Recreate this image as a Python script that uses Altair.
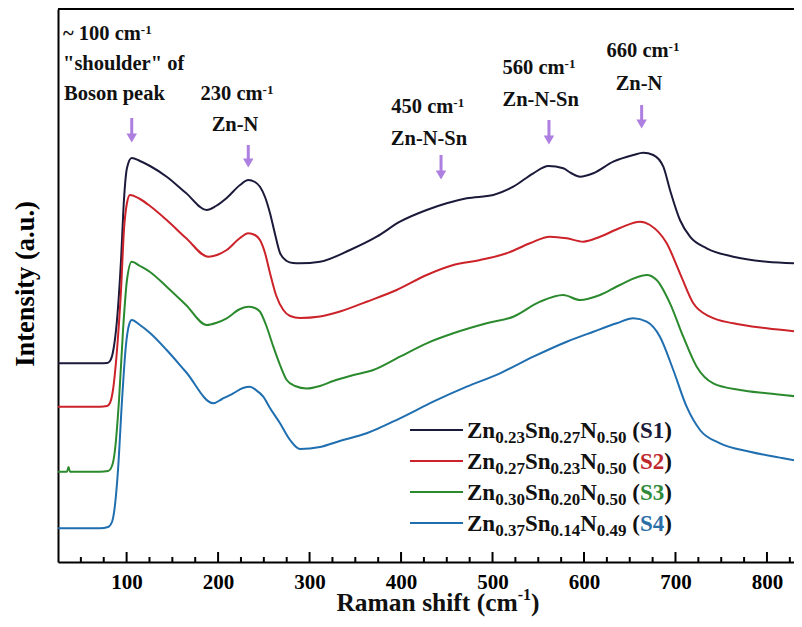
import altair as alt
import pandas as pd

# ---------------- data ----------------
shift_s1 = [25, 70.9, 78.6, 81.8, 85.1, 89.5, 93.9, 97.1, 100.4, 105.6, 114.6, 125.6, 143.8, 164.9, 187.5,
            197.7, 209.4, 224.0, 233.0, 240.3, 245.8, 251.3, 256.7, 262.2, 267.7, 275.0, 281.9, 289.5, 311.4, 344.2,
            373.4, 398.8, 428.0, 449.9, 471.8, 500.8, 522.7, 544.6, 561.0, 577.3, 585.8, 595.6, 610.2, 632.0, 653.9,
            664.8, 675.7, 686.7, 694.0, 704.9, 715.9, 734.1, 763.2, 799.7, 836.1]
int_s1 = [198.7, 198.7, 199, 201, 210, 242, 302, 362, 394, 404, 401, 396, 385.3, 369, 352,
          356, 364, 377, 382, 380, 375.3, 365, 349, 328, 309, 301, 299, 298.7, 300.3, 312,
          325.3, 340.3, 352, 358.7, 363.7, 367, 375.3, 388.7, 396, 393.7, 389, 385.3, 388.7, 400.3, 407,
          409.3, 407, 395.3, 372, 342, 325.3, 313.7, 305.3, 300.3, 298.7]

shift_s2 = [25, 70.9, 78.6, 81.8, 85.1, 89.5, 93.9, 97.1, 100.4, 103.7, 114.6, 125.6, 143.8, 164.9, 189.3,
            198.8, 209.4, 224.0, 233.0, 240.3, 245.8, 251.3, 256.7, 263.3, 271.3, 278.7, 289.5, 311.4, 335.0, 362.4,
            395.2, 428.0, 457.1, 486.3, 515.5, 540.9, 562.8, 581.1, 599.2, 617.5, 639.3, 661.2, 672.1, 690.4, 704.9,
            719.5, 737.7, 763.2, 799.7, 836.1]
int_s2 = [155.3, 155.3, 156, 159, 172, 212, 272, 332, 359, 367, 363, 356, 342, 324, 305.3,
          307, 312, 324, 328.7, 327, 322, 309, 289, 267, 252, 246, 244, 245.5, 251, 260.3,
          272, 287, 297, 302, 308.7, 318.7, 325.3, 323.7, 320.3, 325.3, 334, 340.3, 337, 318.7, 288.7,
          258.7, 245.3, 238.7, 233.7, 230.3]

shift_s3 = [25, 34.8, 36.5, 38.1, 70.9, 79.7, 84.0, 87.3, 91.7, 96.1, 100.4, 105.6, 114.6, 125.6, 143.8,
            164.9, 187.5, 197.7, 209.4, 224.0, 233.0, 240.3, 245.8, 252.4, 260.4, 267.7, 275.0, 284.1, 296.9, 311.4,
            325.9, 348.0, 369.7, 398.8, 428.0, 457.1, 493.6, 522.7, 551.9, 577.3, 595.6, 617.5, 639.3, 668.5, 679.4,
            694.0, 708.5, 723.2, 741.3, 770.5, 799.7, 836.1]
int_s3 = [90.3, 90.3, 95, 90.3, 90.3, 91, 96, 112, 162, 232, 282, 300.3, 296, 290, 275.3,
          257, 237, 239, 243.7, 253, 255.3, 254, 250.3, 237, 215.3, 197, 182, 176, 173.5, 176,
          181, 187, 192, 205.3, 218.7, 228.7, 238.7, 245.3, 260.3, 267, 262, 267, 277, 287, 282,
          258.7, 225.3, 195.3, 178.7, 172, 168.7, 165.3]

shift_s4 = [25, 70.9, 79.7, 84.0, 87.3, 90.6, 95.0, 99.3, 102.6, 105.6, 114.6, 125.6, 143.8, 164.9, 194.8,
            204.3, 216.6, 227.2, 234.9, 241.4, 249.4, 256.7, 267.7, 278.7, 289.5, 311.4, 333.0, 362.4, 398.8, 435.2,
            471.8, 508.2, 544.6, 581.1, 610.2, 635.7, 653.9, 668.5, 683.0, 697.6, 712.2, 726.8, 748.7, 781.4, 817.8,
            838]
int_s4 = [33.7, 33.7, 35, 40, 57, 92, 162, 217, 237, 242, 237, 229, 212, 190, 158.7,
          163, 168.7, 174, 175.3, 172, 165.3, 154, 138.7, 122, 113, 115, 121, 128.7, 143.7, 160.3,
          175.3, 188.7, 205.3, 220.3, 230.3, 238.7, 243.7, 240.3, 225.3, 192, 155.3, 132, 118.7, 110.3, 103.7,
          100.3]

sample_ids = ["S1", "S2", "S3", "S4"]
zn_frac = ["0.23", "0.27", "0.30", "0.37"]
sn_frac = ["0.27", "0.23", "0.20", "0.14"]
n_frac = ["0.50", "0.50", "0.50", "0.49"]

band_positions = [105.6, 233.0, 443.7, 561.7, 663.0]
tick_labels = [100, 200, 300, 400, 500, 600, 700, 800]

# ---------------- styles / layout ----------------
line_colors = ["#1c1a3a", "#cc2229", "#2b8a2e", "#1f6eb0"]
id_colors = ["#1c1a3a", "#c0272d", "#2f8a3b", "#2c6fa8"]
arrow_color = "#ad7fe0"
FONT = "Liberation Serif"
PX_PER_CM = 0.91479
PW, PH = 736, 553
XD = (25.0, 25.0 + PW / PX_PER_CM)
LEFT, TOP = 58, 9
PAD_BOTTOM = 55

def to_v(px):
    return XD[0] + (px - LEFT) / PX_PER_CM

def to_i(py):
    return (TOP + PH) - py

# Times-Bold advance widths (per 1000 em)
WID = {" ": 250, '"': 555, "(": 333, ")": 333, "-": 333, ".": 250, "~": 520,
       "N": 722, "R": 722, "S": 556, "Z": 667, "B": 667,
       "a": 500, "c": 444, "d": 556, "e": 444, "f": 333, "h": 556, "i": 278, "k": 556,
       "l": 278, "m": 833, "n": 556, "o": 500, "p": 556, "r": 444, "s": 389, "t": 333, "u": 556}

def tw(s, fs):
    return sum(WID.get(c, 500) for c in s) * fs / 1000.0

def run(parts, x, base, align="left"):
    widths = [tw(t, s) for t, s, _, _ in parts]
    if align == "center":
        x -= sum(widths) / 2
    out = []
    for (t, s, dy, c), w in zip(parts, widths):
        lead = len(t) - len(t.lstrip(" "))
        out.append(dict(v=to_v(x + tw(" " * lead, s)), i=to_i(base + dy), t=t.strip(), fs=s, col=c))
        x += w
    return out

K = "#111111"
A, SUP = 20.5, 13
texts = []
texts += run([("~ 100 cm", A, 0, K), ("-1", SUP, -6, K)], 63, 40)
texts += run([('"shoulder" of', A, 0, K)], 63, 70)
texts += run([("Boson peak", A, 0, K)], 64, 100)
texts += run([("230 cm", A, 0, K), ("-1", SUP, -6, K)], 237, 99.5, "center")
texts += run([("Zn-N", A, 0, K)], 235, 130.7, "center")
texts += run([("450 cm", A, 0, K), ("-1", SUP, -6, K)], 427.7, 113.3, "center")
texts += run([("Zn-N-Sn", A, 0, K)], 429, 145, "center")
texts += run([("560 cm", A, 0, K), ("-1", SUP, -6, K)], 539, 74, "center")
texts += run([("Zn-N-Sn", A, 0, K)], 540.7, 106, "center")
texts += run([("660 cm", A, 0, K), ("-1", SUP, -6, K)], 643, 57.3, "center")
texts += run([("Zn-N", A, 0, K)], 639, 90, "center")
# x title
texts += run([("Raman shift (cm", 25.5, 0, K), ("-1", 16, -11, K), (")", 25.5, 0, K)], 438, 611, "center")

# legend
LG, LS = 23, 17
leg_lines = []
for k in range(4):
    base = 438 + 31 * k
    texts += run([("Zn", LG, 0, K), (zn_frac[k], LS, 5, K), ("Sn", LG, 0, K), (sn_frac[k], LS, 5, K),
                  ("N", LG, 0, K), (n_frac[k], LS, 5, K), (" (", LG, 0, K),
                  (sample_ids[k], LG, 0, id_colors[k]), (")", LG, 0, K)], 467, base)
    leg_lines.append(dict(v0=to_v(410), v1=to_v(463), i=to_i(base - 8), col=line_colors[k]))

text_df = pd.DataFrame(texts)
leg_df = pd.DataFrame(leg_lines)

# arrows (top and tip, page px)
arrow_top = [118, 145, 155, 120, 105]
arrow_tip = [143, 168, 180, 145, 129]
arrow_df = pd.DataFrame(dict(v=band_positions,
                             top=[to_i(p) for p in arrow_top],
                             shaft_end=[to_i(p - 8) for p in arrow_tip],
                             head=[to_i(p - 5) for p in arrow_tip]))

# spectra
frames = []
for sid, xs_, ys_ in zip(sample_ids, [shift_s1, shift_s2, shift_s3, shift_s4], [int_s1, int_s2, int_s3, int_s4]):
    frames.append(pd.DataFrame(dict(shift=xs_, inten=ys_, sample=sid)))
spec = pd.concat(frames, ignore_index=True)

xs = alt.Scale(domain=list(XD), nice=False, zero=False)
ys = alt.Scale(domain=[0, PH], nice=False, zero=False)

xaxis = alt.Axis(values=tick_labels, ticks=False, grid=False, title=None, domainColor="black",
                 domainWidth=2, labelFont=FONT, labelFontWeight="bold", labelFontSize=21,
                 labelColor="black", labelPadding=9, format="d")
yaxis = alt.Axis(labels=False, ticks=False, grid=False, title=None, domainColor="black", domainWidth=2)

lines = alt.Chart(spec).mark_line(strokeWidth=2, clip=True, interpolate="monotone").encode(
    x=alt.X("shift:Q", scale=xs, axis=xaxis),
    y=alt.Y("inten:Q", scale=ys, axis=yaxis),
    color=alt.Color("sample:N", scale=alt.Scale(domain=sample_ids, range=line_colors), legend=None),
    detail="sample:N",
)

major = [t for t in range(100, 801, 100)]
minor = [t for t in range(50, 826, 25) if t % 100 != 0]
maj_rules = alt.Chart(pd.DataFrame(dict(t=major))).mark_rule(color="black", strokeWidth=2).encode(
    x=alt.X("t:Q", scale=xs), y=alt.value(PH), y2=alt.value(PH - 10))
min_rules = alt.Chart(pd.DataFrame(dict(t=minor))).mark_rule(color="black", strokeWidth=2).encode(
    x=alt.X("t:Q", scale=xs), y=alt.value(PH), y2=alt.value(PH - 5))
top_rule = alt.Chart(pd.DataFrame(dict(a=[0]))).mark_rule(color="black", strokeWidth=2).encode(
    x=alt.value(0), x2=alt.value(PW), y=alt.value(0))

shafts = alt.Chart(arrow_df).mark_rule(color=arrow_color, strokeWidth=3).encode(
    x=alt.X("v:Q", scale=xs), y=alt.Y("top:Q", scale=ys), y2="shaft_end:Q")
heads = alt.Chart(arrow_df).mark_point(shape="triangle-down", filled=True, color=arrow_color,
                                       opacity=1, size=110).encode(
    x=alt.X("v:Q", scale=xs), y=alt.Y("head:Q", scale=ys))

leg_rules = alt.Chart(leg_df).mark_rule(strokeWidth=2).encode(
    x=alt.X("v0:Q", scale=xs), x2="v1:Q", y=alt.Y("i:Q", scale=ys),
    color=alt.Color("col:N", scale=None))

txt = alt.Chart(text_df).mark_text(align="left", baseline="alphabetic", font=FONT, fontWeight="bold").encode(
    x=alt.X("v:Q", scale=xs), y=alt.Y("i:Q", scale=ys), text="t:N",
    size=alt.Size("fs:Q", scale=None), color=alt.Color("col:N", scale=None))

ytitle = alt.Chart(pd.DataFrame(dict(t=["Intensity (a.u.)"]))).mark_text(
    angle=270, align="center", baseline="middle", font=FONT, fontWeight="bold", fontSize=26.5,
    color="black").encode(x=alt.value(26 - LEFT), y=alt.value(284 - TOP), text="t:N")

chart = alt.layer(lines, maj_rules, min_rules, top_rule, shafts, heads, leg_rules, txt, ytitle).properties(
    width=PW, height=PH,
    autosize=alt.AutoSizeParams(type="none"),
    padding={"left": 50, "top": 1, "right": 0, "bottom": PAD_BOTTOM},
    background="white",
).configure_view(stroke=None)

chart.save("out.html", embed_options={"renderer": "svg", "actions": False})
